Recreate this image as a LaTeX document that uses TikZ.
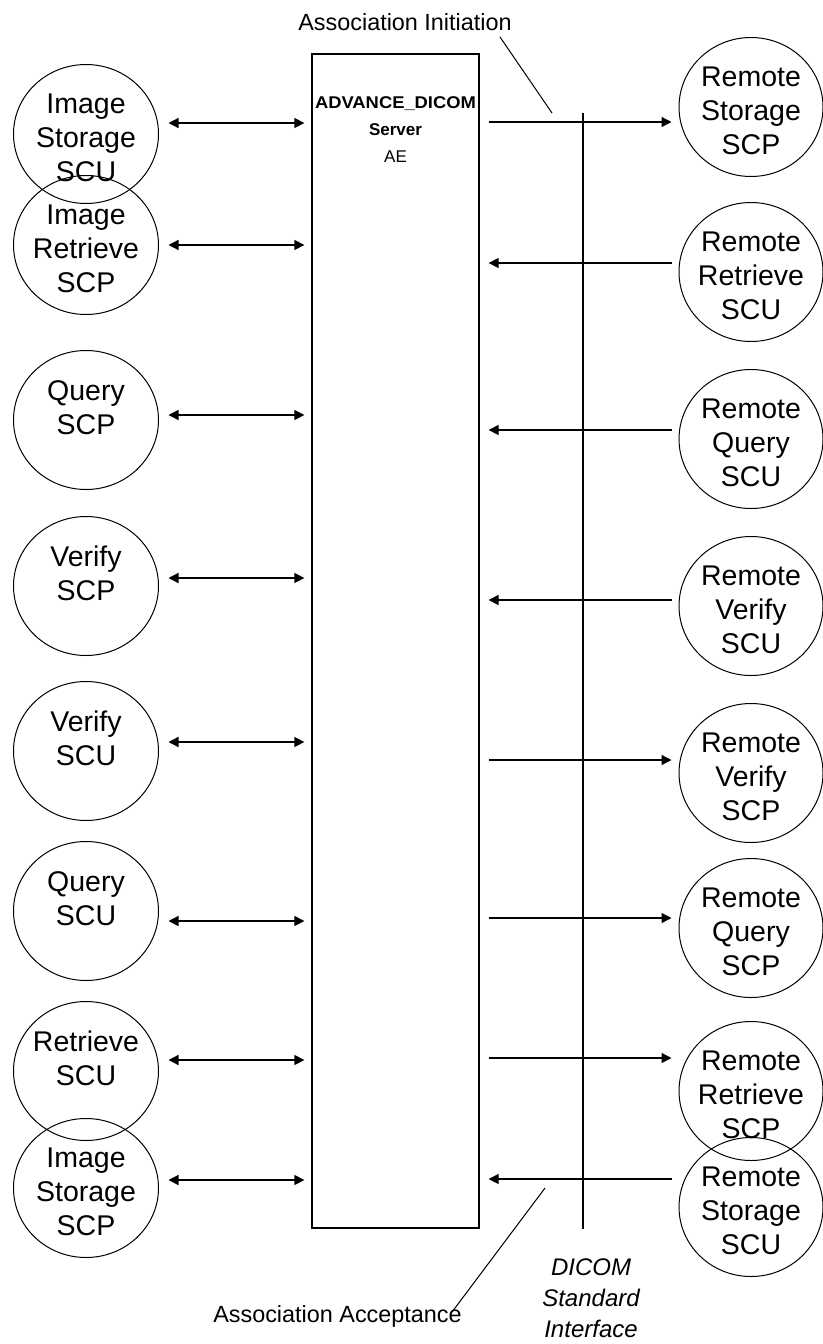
\documentclass[tikz,border=0pt]{standalone}
\usepackage{fontspec}
\setmainfont{Liberation Sans}
\usetikzlibrary{arrows.meta,shapes.geometric,calc}
\begin{document}
\begin{tikzpicture}[x=1pt,y=-1pt,
  svc/.style={draw,ellipse,line width=1pt,minimum width=145pt,minimum height=139pt,inner sep=0pt},
  svctext/.style={anchor=north,align=center,inner sep=0pt,font=\fontsize{28.5}{34}\selectfont},
  dbl/.style={line width=1.3pt,{Triangle[length=10pt,width=10pt]}-{Triangle[length=10pt,width=10pt]}},
  one/.style={line width=1.3pt,-{Triangle[length=10pt,width=10pt]}},
  thin/.style={line width=1pt},
  lbl/.style={inner sep=0pt,font=\fontsize{23.4}{28}\selectfont},
]
\useasboundingbox[fill=white] (0,0) rectangle (822,1344);

% AE box
\node[draw,line width=1.3pt,minimum width=167pt,minimum height=1174pt,inner sep=0pt] (ae) at (395.5,641) {};
\node[anchor=north,align=center,inner sep=0pt,font=\fontsize{17}{27}\selectfont] (aetext) at (395.5,96)
  {\textbf{\scalebox{1.08}[1]{ADVANCE\_DICOM}}\\\textbf{Server}\\AE};

% left services
\foreach \n/\y/\t in {L1/134/{Image\\Storage\\SCU},L2/245/{Image\\Retrieve\\SCP},L3/420/{Query\\SCP},
  L4/586/{Verify\\SCP},L5/751/{Verify\\SCU},L6/911/{Query\\SCU},L7/1071/{Retrieve\\SCU},L8/1188/{Image\\Storage\\SCP}}{
  \node[svc] (\n) at (86,\y) {};
  \node[svctext] (\n t) at (86,\y-40) {\t};
}
% right services
\foreach \n/\y/\t in {R1/107/{Remote\\Storage\\SCP},R2/272/{Remote\\Retrieve\\SCU},R3/439/{Remote\\Query\\SCU},
  R4/606/{Remote\\Verify\\SCU},R5/773/{Remote\\Verify\\SCP},R6/928/{Remote\\Query\\SCP},R7/1091/{Remote\\Retrieve\\SCP},R8/1207/{Remote\\Storage\\SCU}}{
  \node[svc,minimum width=144pt] (\n) at (751,\y) {};
  \node[svctext] (\n t) at (751,\y-40) {\t};
}

% left double arrows
\foreach \n/\y in {L1/123,L2/245,L3/415,L4/578,L5/742,L6/921,L7/1060,L8/1180}{
  \draw[dbl] ([xshift=9.5pt]\n.east |- 0,\y) -- ([xshift=-7pt]ae.west |- 0,\y);
}
% right arrows, outgoing
\foreach \n/\y in {R1/122,R5/760,R6/918,R7/1058}{
  \draw[one] ([xshift=9pt]ae.east |- 0,\y) -- ([xshift=-7pt]\n.west |- 0,\y);
}
% right arrows, incoming
\foreach \n/\y in {R2/263,R3/430,R4/600,R8/1179}{
  \draw[one] ([xshift=-7pt]\n.west |- 0,\y) -- ([xshift=9pt]ae.east |- 0,\y);
}

% DICOM interface line
\coordinate (iftop) at (583,113);
\draw[line width=1.3pt] (iftop) -- (iftop |- ae.south);

% labels
\node[lbl,anchor=base] (init) at (405,30) {Association Initiation};
\coordinate (initfrom) at (500,37);
\coordinate (initto) at (552,113);
\draw[thin] (initfrom) -- (initto);

\node[lbl,anchor=base] (acc) at (337.5,1322) {Association Acceptance};
\coordinate (accfrom) at (545,1188);
\coordinate (accto) at (452,1312);
\draw[thin] (accfrom) -- (accto);

\node[anchor=base,align=center,inner sep=0pt,font=\fontsize{24}{31}\selectfont\itshape] (dicom) at (591,1337)
  {DICOM\\Standard\\Interface};
\end{tikzpicture}
\end{document}
